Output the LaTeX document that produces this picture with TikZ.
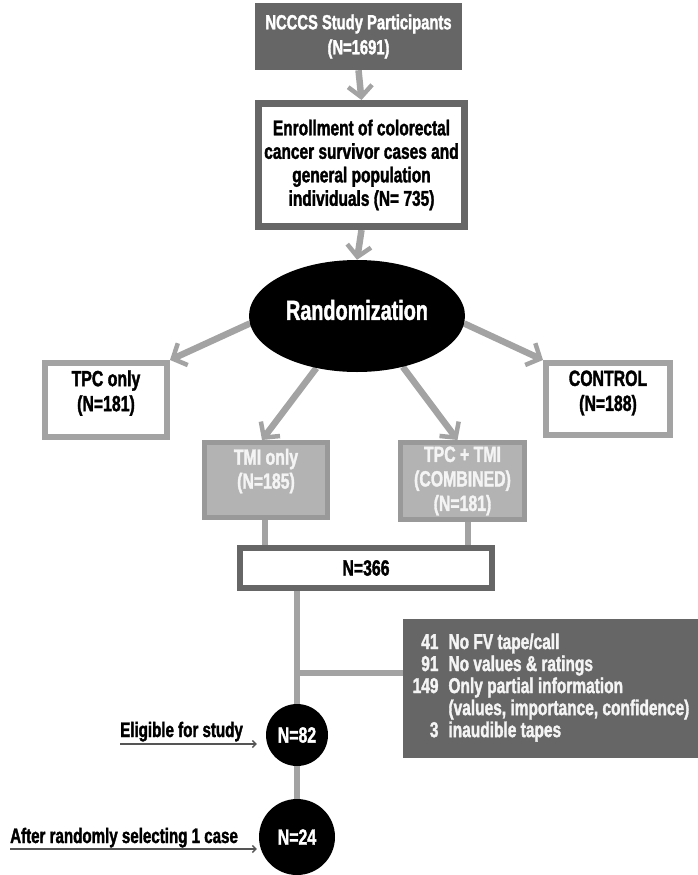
\documentclass[tikz,border=0pt]{standalone}
\usepackage{fontspec}
\setmainfont[FakeStretch=0.72, BoldFeatures={FakeBold=1.6}]{Liberation Sans}
\usetikzlibrary{arrows.meta,shapes.geometric,backgrounds}
\definecolor{dgray}{HTML}{666666}
\definecolor{lgray}{HTML}{A3A3A3}
\definecolor{mgray}{HTML}{B3B3B3}
\definecolor{bgray}{HTML}{999999}
\definecolor{tgray}{HTML}{F4F4F4}
\definecolor{agray}{HTML}{555555}
\begin{document}
\begin{tikzpicture}[x=1pt,y=-1pt,
  every node/.style={font=\bfseries\fontsize{22}{25}\selectfont, inner sep=0pt, align=center},
  every label/.style={font=\bfseries\fontsize{22}{25}\selectfont, inner sep=0pt, align=center},
  darkbox/.style={fill=dgray, text=white},
  outlinebox/.style={draw=dgray, line width=7pt, fill=white},
  lightbox/.style={draw=lgray, line width=6pt, fill=white},
  armbox/.style={draw=bgray, line width=5pt, fill=mgray, text=tgray},
  flow/.style={draw=lgray, line width=6.5pt, -{Straight Barb[length=11pt,width=24pt,line width=4.5pt]}},
  link/.style={draw=lgray, line width=6pt},
  pointer/.style={draw=agray, line width=1.6pt, -{Straight Barb[length=3.5pt,width=7pt,line width=1.4pt]}},
  dot/.style={circle, fill=black, text=white},
  sidelabel/.style={font=\bfseries\fontsize{21}{23}\selectfont, anchor=base west},
]
\useasboundingbox (0,0) rectangle (697,875);

% boxes
\node[darkbox, minimum width=207pt, minimum height=67pt, font=\bfseries\fontsize{20.5}{25}\selectfont] (ncccs) at (358.5,36.5) {NCCCS Study Participants\\(N=1691)};
\node[outlinebox, minimum width=206pt, minimum height=123pt, font=\bfseries\fontsize{21.5}{23.5}\selectfont] (enrol) at (361.5,165) {Enrollment of colorectal\\cancer survivor cases and\\general population\\individuals (N= 735)};
\node[ellipse, fill=black, minimum width=216pt, minimum height=112pt,
  label={[text=white, yshift=6pt, font=\bfseries\fontsize{27.5}{30}\selectfont]center:Randomization}] (rand) at (357,316) {};
\node[lightbox, minimum width=122pt, minimum height=74pt,
  label={[yshift=7pt]center:{TPC only\\(N=181)}}] (tpc) at (106,400) {};
\node[lightbox, minimum width=124pt, minimum height=72pt,
  label={[yshift=6pt]center:{CONTROL\\(N=188)}}] (ctrl) at (608,399) {};
\node[armbox, minimum width=123pt, minimum height=75pt,
  label={[text=tgray, yshift=9pt, font=\bfseries\fontsize{22}{24}\selectfont]center:{TMI only\\(N=185)}}] (tmi) at (266,480) {};
\node[armbox, minimum width=124pt, minimum height=77pt, font=\bfseries\fontsize{22}{24.5}\selectfont] (comb) at (462.5,481) {TPC + TMI\\(COMBINED)\\(N=181)};
\node[outlinebox, line width=6pt, minimum width=252pt, minimum height=40pt] (n366) at (366,568) {N=366};
\node[darkbox, text=tgray, minimum width=296pt, minimum height=139pt, font=\bfseries\fontsize{21.5}{21.5}\selectfont] (excl) at (551,688.5)
  {\begin{tabular}{@{}r@{\hspace{10pt}}l@{}}
   41 & No FV tape/call\\
   91 & No values \& ratings\\
   149 & Only partial information\\
       & (values, importance, confidence)\\
   3 & inaudible tapes
   \end{tabular}};
\node[dot, minimum size=62pt] (n82) at (297,735) {N=82};
\node[dot, minimum size=76pt] (n24) at (297,837) {N=24};

% side labels
\node[sidelabel] (elig) at (120,737) {Eligible for study};
\node[sidelabel] (after) at (10,843) {After randomly selecting 1 case};
\coordinate (eligs) at (120,744);
\coordinate (afters) at (10,849);
\coordinate (br) at (297,673);

\begin{scope}[on background layer]
\draw[flow] (ncccs.south) -- (enrol.north);
\draw[flow] (enrol.south) -- (rand.north);
\draw[flow] (rand.184) -- (tpc.north east);
\draw[flow] (rand.356) -- (ctrl.north west);
\draw[flow] (rand.232) -- ([xshift=-4pt]tmi.north);
\draw[flow] (rand.312) -- ([xshift=-5pt]comb.north);
\draw[link] ([xshift=-1pt]tmi.south) -- ([xshift=-1pt]tmi.south |- n366.north);
\draw[link] ([xshift=5.5pt]comb.south) -- ([xshift=5.5pt]comb.south |- n366.north);
\draw[link] (n82 |- n366.south) -- (n82.north);
\draw[link] (br) -- (excl.west |- br);
\draw[link] (n82.south) -- (n24.north);
\end{scope}
\draw[pointer, shorten >=9pt] (eligs) -- (eligs -| n82.west);
\draw[pointer, shorten >=2pt] (afters) -- (afters -| n24.west);
\end{tikzpicture}
\end{document}
